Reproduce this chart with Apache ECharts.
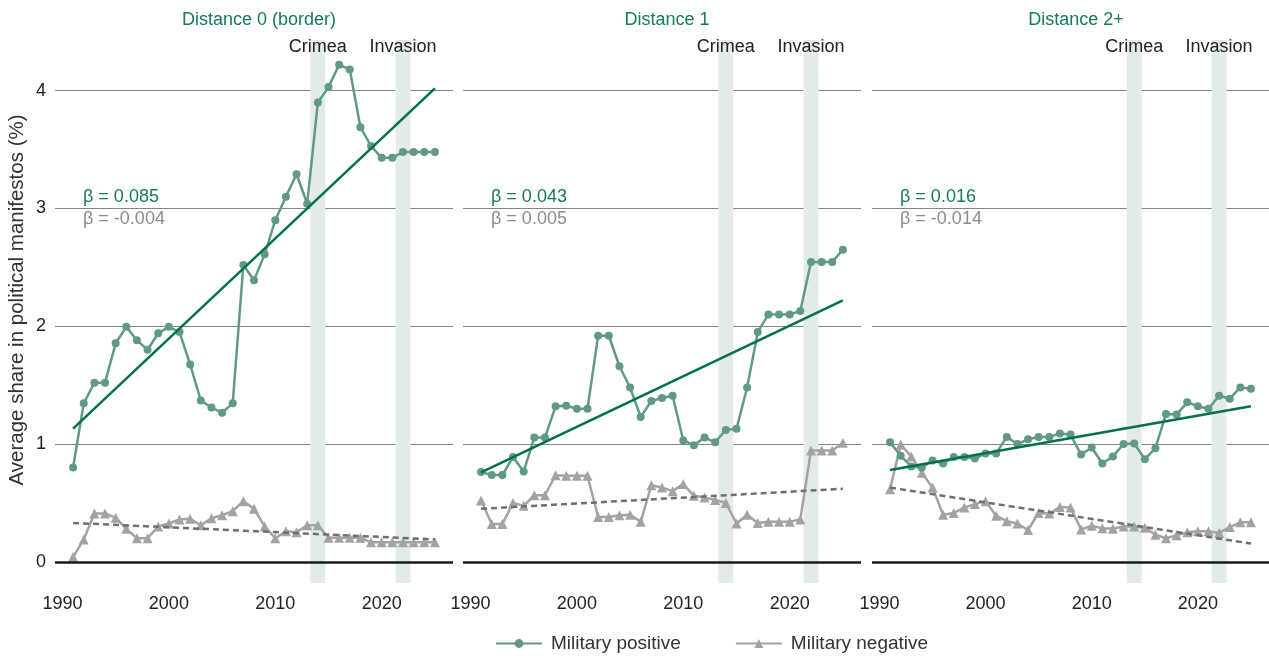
<!DOCTYPE html>
<html>
<head>
<meta charset="utf-8">
<script src="https://cdn.jsdelivr.net/npm/echarts@6/dist/echarts.min.js"></script>
<style>
  html, body { margin: 0; padding: 0; background: #fff; }
  #main { width: 1269px; height: 656px; }
</style>
</head>
<body>
<div id="main"></div>
<script>
const years = [1991, 1992, 1993, 1994, 1995, 1996, 1997, 1998, 1999, 2000,
  2001, 2002, 2003, 2004, 2005, 2006, 2007, 2008, 2009, 2010,
  2011, 2012, 2013, 2014, 2015, 2016, 2017, 2018, 2019, 2020,
  2021, 2022, 2023, 2024, 2025];

const panelTitles = ['Distance 0 (border)', 'Distance 1', 'Distance 2+'];

// military positive, per distance
const posD0 = [0.80, 1.345, 1.52, 1.52, 1.855, 1.995, 1.88, 1.80, 1.94, 1.995,
  1.95, 1.675, 1.37, 1.31, 1.265, 1.345, 2.52, 2.39, 2.61, 2.90,
  3.10, 3.29, 3.04, 3.90, 4.03, 4.22, 4.18, 3.69, 3.53, 3.43,
  3.43, 3.48, 3.48, 3.48, 3.48];
const posD1 = [0.763, 0.736, 0.736, 0.89, 0.766, 1.055, 1.055, 1.32, 1.325, 1.30,
  1.30, 1.92, 1.92, 1.66, 1.48, 1.23, 1.365, 1.39, 1.41, 1.03,
  0.99, 1.055, 1.015, 1.12, 1.13, 1.48, 1.95, 2.10, 2.10, 2.10,
  2.13, 2.545, 2.545, 2.545, 2.65];
const posD2 = [1.015, 0.90, 0.81, 0.80, 0.86, 0.835, 0.89, 0.89, 0.877, 0.92,
  0.92, 1.06, 1.00, 1.04, 1.06, 1.06, 1.09, 1.08, 0.91, 0.97,
  0.835, 0.895, 1.00, 1.005, 0.87, 0.965, 1.255, 1.25, 1.355, 1.32,
  1.30, 1.41, 1.385, 1.48, 1.47];

// military negative, per distance
const negD0 = [0.04, 0.19, 0.41, 0.41, 0.375, 0.28, 0.20, 0.20, 0.30, 0.325,
  0.36, 0.365, 0.31, 0.37, 0.395, 0.43, 0.515, 0.45, 0.30, 0.20,
  0.26, 0.25, 0.31, 0.31, 0.205, 0.205, 0.205, 0.205, 0.165, 0.165,
  0.165, 0.165, 0.165, 0.165, 0.165];
const negD1 = [0.52, 0.32, 0.32, 0.50, 0.475, 0.565, 0.565, 0.735, 0.73, 0.73,
  0.73, 0.38, 0.38, 0.395, 0.40, 0.34, 0.65, 0.63, 0.60, 0.66,
  0.56, 0.545, 0.525, 0.50, 0.325, 0.40, 0.33, 0.34, 0.34, 0.34,
  0.36, 0.945, 0.945, 0.945, 1.01];
const negD2 = [0.615, 0.995, 0.895, 0.755, 0.63, 0.40, 0.415, 0.46, 0.49, 0.515,
  0.39, 0.345, 0.325, 0.27, 0.415, 0.41, 0.465, 0.46, 0.275, 0.305,
  0.285, 0.28, 0.30, 0.30, 0.29, 0.23, 0.20, 0.225, 0.25, 0.26,
  0.26, 0.245, 0.295, 0.335, 0.335];

// fitted trend lines: value at first and last year
const trendYears = [1991, 2025];
const trendPos = [[1.13, 4.02], [0.76, 2.22], [0.78, 1.32]];
const trendNeg = [[0.33, 0.19], [0.45, 0.62], [0.63, 0.155]];
const betaPos = ['β = 0.085', 'β = 0.043', 'β = 0.016'];
const betaNeg = ['β = -0.004', 'β = 0.005', 'β = -0.014'];

const eventNames = ['Crimea', 'Invasion'];
const eventFrom = [2013.3, 2021.3];
const eventTo = [2014.7, 2022.7];

const xMin = 1989.3, xMax = 2026.7;
const yMin = -0.18, yMax = 4.43;

const posSeries = [posD0, posD1, posD2];
const negSeries = [negD0, negD1, negD2];

const GREEN = '#609a82';
const GREEN_DARK = '#00704f';
const GREY = '#a3a3a6';
const GREY_DARK = '#6f6f6f';
const FONT = 'Liberation Sans, Arial, sans-serif';

const panelLeft = [55, 463, 872];
const panelWidth = 398;

function pairs(vals) {
  return years.map((y, i) => [y, vals[i]]);
}

const grids = [], xAxes = [], yAxes = [], series = [], titles = [], texts = [];

for (let p = 0; p < 3; p++) {
  grids.push({ left: panelLeft[p], width: panelWidth, top: 40, bottom: 73 });
  xAxes.push({
    type: 'value', gridIndex: p, min: xMin, max: xMax, splitNumber: 4,
    axisLine: { show: false }, axisTick: { show: false }, splitLine: { show: false },
    axisLabel: {
      fontSize: 18, color: '#222', fontFamily: FONT, margin: 12,
      showMinLabel: false, showMaxLabel: false,
      formatter: v => (Math.abs(v % 10) < 1e-6 ? String(Math.round(v)) : '')
    }
  });
  yAxes.push({
    type: 'value', gridIndex: p, min: yMin, max: yMax, splitNumber: 5,
    axisLine: { show: false }, axisTick: { show: false },
    splitLine: { show: true, showMinLine: false, showMaxLine: false, lineStyle: { color: '#858585', width: 1 } },
    axisLabel: {
      show: p === 0, fontSize: 18, color: '#222', fontFamily: FONT, margin: 9,
      showMinLabel: false, showMaxLabel: false,
      formatter: v => (Math.abs(v - Math.round(v)) < 1e-6 && v >= 0 ? String(Math.round(v)) : '')
    }
  });
  titles.push({
    text: panelTitles[p], left: panelLeft[p] + panelWidth / 2, top: 6, textAlign: 'center',
    textStyle: { fontSize: 18, fontWeight: 'normal', color: '#167a5e', fontFamily: FONT }
  });

  // event bands
  series.push({
    type: 'line', xAxisIndex: p, yAxisIndex: p, data: [], z: 1, silent: true,
    markArea: {
      silent: true,
      itemStyle: { color: '#e3ebe8' },
      label: { show: true, position: 'insideTop', distance: -2, fontSize: 18, color: '#222', fontFamily: FONT },
      data: eventNames.map((n, i) => [{ name: n, xAxis: eventFrom[i] }, { xAxis: eventTo[i] }])
    }
  });
  // zero line
  series.push({
    type: 'line', xAxisIndex: p, yAxisIndex: p, data: [], z: 2, silent: true,
    markLine: {
      silent: true, symbol: 'none', label: { show: false },
      lineStyle: { color: '#1a1a1a', width: 2.5, type: 'solid' },
      data: [{ yAxis: 0 }]
    }
  });
  series.push({
    name: 'Military negative', type: 'line', xAxisIndex: p, yAxisIndex: p, z: 3,
    data: pairs(negSeries[p]), symbol: 'triangle', symbolSize: 10,
    itemStyle: { color: GREY }, lineStyle: { color: GREY, width: 2.5 }
  });
  series.push({
    name: 'Military positive', type: 'line', xAxisIndex: p, yAxisIndex: p, z: 4,
    data: pairs(posSeries[p]), symbol: 'circle', symbolSize: 8,
    itemStyle: { color: GREEN }, lineStyle: { color: GREEN, width: 2.5 }
  });
  series.push({
    name: 'trend negative', type: 'line', xAxisIndex: p, yAxisIndex: p, z: 5,
    data: trendYears.map((y, i) => [y, trendNeg[p][i]]), symbol: 'none',
    lineStyle: { color: GREY_DARK, width: 2.5, type: [6, 4] }
  });
  series.push({
    name: 'trend positive', type: 'line', xAxisIndex: p, yAxisIndex: p, z: 5,
    data: trendYears.map((y, i) => [y, trendPos[p][i]]), symbol: 'none',
    lineStyle: { color: GREEN_DARK, width: 2.5 }
  });

  texts.push({
    type: 'text', left: panelLeft[p] + 28, top: 188,
    style: { text: betaPos[p], fill: '#167a5e', font: '18px ' + FONT }
  });
  texts.push({
    type: 'text', left: panelLeft[p] + 28, top: 210,
    style: { text: betaNeg[p], fill: '#8c8c8c', font: '18px ' + FONT }
  });
}

texts.push({
  type: 'text', x: 17, y: 300, rotation: Math.PI / 2,
  style: {
    text: 'Average share in political manifestos (%)', fill: '#333',
    font: '20.5px ' + FONT, textAlign: 'center', textVerticalAlign: 'middle'
  }
});

const chart = echarts.init(document.getElementById('main'));
chart.setOption({
  animation: false,
  backgroundColor: '#fff',
  title: titles,
  grid: grids,
  xAxis: xAxes,
  yAxis: yAxes,
  legend: {
    data: ['Military positive', 'Military negative'],
    left: 495, top: 634, padding: 0, itemWidth: 46, itemHeight: 11, itemGap: 54,
    textStyle: { fontSize: 19, color: '#333', fontFamily: FONT, padding: [0, 0, 0, 4] }
  },
  graphic: texts,
  series: series
});
</script>
</body>
</html>
